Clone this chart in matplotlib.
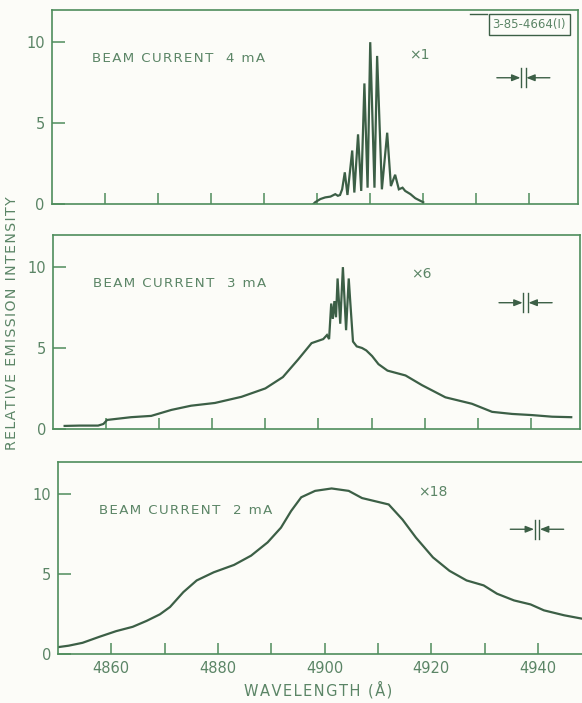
"""Emission spectra at three beam currents, stacked panels."""
import matplotlib

matplotlib.use("Agg")
import matplotlib.pyplot as plt
from matplotlib.lines import Line2D

# 4 mA panel (x1)
wl_4ma = [4899.4, 4899.7, 4900.7, 4901.6, 4902.6, 4903.5, 4904.0, 4904.4, 4904.8,
          4905.3, 4905.8, 4906.7, 4907.1, 4907.8, 4908.4, 4909.0, 4909.6, 4910.1,
          4910.9, 4911.4, 4912.3, 4913.3, 4914.0, 4914.8, 4915.5, 4916.2, 4916.7,
          4917.7, 4918.6, 4920.1]
int_4ma = [0.0, 0.1, 0.3, 0.4, 0.45, 0.6, 0.5, 0.55, 0.9,
           1.95, 0.55, 3.3, 0.7, 4.3, 0.8, 7.45, 1.0, 10.0,
           1.0, 9.15, 0.9, 4.4, 1.1, 1.8, 0.9, 1.0, 0.8,
           0.6, 0.35, 0.1]

# 3 mA panel (x6)
wl_3ma = [4852.2, 4855.0, 4858.5, 4859.5, 4860.2, 4864.7, 4868.5, 4872.3, 4876.0,
          4880.5, 4885.5, 4890.0, 4893.3, 4896.2, 4898.7, 4900.9, 4901.6, 4902.0,
          4902.4, 4902.7, 4903.0, 4903.3, 4903.6, 4904.1, 4904.6, 4905.2, 4905.7,
          4906.0, 4906.5, 4907.2, 4908.2, 4909.0, 4910.1, 4911.3, 4913.0, 4916.4,
          4919.5, 4923.9, 4928.9, 4932.7, 4936.5, 4940.2, 4944.0, 4947.6]
int_3ma = [0.18, 0.2, 0.2, 0.3, 0.55, 0.72, 0.8, 1.17, 1.43,
           1.6, 1.98, 2.5, 3.2, 4.3, 5.3, 5.55, 5.8, 5.55,
           7.75, 6.8, 7.9, 6.9, 9.3, 6.5, 10.0, 6.1, 9.3,
           7.8, 5.4, 5.1, 5.0, 4.85, 4.5, 4.0, 3.6, 3.3,
           2.7, 1.95, 1.55, 1.05, 0.92, 0.85, 0.75, 0.72]

# 2 mA panel (x18)
wl_2ma = [4849.8, 4852.0, 4854.6, 4857.7, 4860.9, 4864.0, 4866.6, 4869.1, 4871.0,
          4873.5, 4876.0, 4879.2, 4883.0, 4886.2, 4889.3, 4891.8, 4893.7, 4895.6,
          4898.2, 4901.3, 4904.5, 4907.0, 4909.5, 4912.0, 4914.6, 4917.1, 4920.3,
          4923.4, 4926.6, 4929.8, 4932.3, 4935.5, 4938.6, 4941.1, 4944.9, 4948.4,
          4949.5]
int_2ma = [0.42, 0.52, 0.7, 1.07, 1.43, 1.7, 2.07, 2.48, 2.94,
           3.87, 4.6, 5.11, 5.57, 6.15, 6.98, 7.9, 8.94, 9.8,
           10.2, 10.35, 10.2, 9.75, 9.55, 9.35, 8.4, 7.28, 6.04,
           5.2, 4.6, 4.29, 3.77, 3.35, 3.1, 2.73, 2.42, 2.2,
           2.15]

panel_labels = ["BEAM CURRENT  4 mA", "BEAM CURRENT  3 mA", "BEAM CURRENT  2 mA"]
scale_labels = ["\u00d71", "\u00d76", "\u00d718"]
x_ticks = [4860, 4870, 4880, 4890, 4900, 4910, 4920, 4930, 4940]
y_ticks = [0, 5, 10]

AXIS_C = "#4f8d5c"
LINE_C = "#3c5f46"
TEXT_C = "#5b8566"
BG = "#fcfcf8"

plt.rcParams["font.family"] = ["DejaVu Sans"]


def spaced(s):
    # the original lettering is widely tracked; hair spaces fake that
    return "\u200a".join(s)


fig = plt.figure(figsize=(5.82, 7.03), dpi=100, facecolor=BG)

# [left, bottom, width, height] per panel
positions = [
    [0.089, 0.710, 0.904, 0.276],
    [0.091, 0.390, 0.906, 0.276],
    [0.0997, 0.0697, 0.91, 0.273],
]
series = [(wl_4ma, int_4ma), (wl_3ma, int_3ma), (wl_2ma, int_2ma)]
scale_y = [9.2, 9.6, 10.1]


def draw_slit(ax, xc, y):
    """Arrows pointing in at a pair of bars: the instrument resolution mark."""
    for side in (-1, 1):
        ax.annotate("", xy=(xc + side * 0.55, y), xytext=(xc + side * 5.0, y),
                    arrowprops=dict(arrowstyle="-|>,head_length=0.5,head_width=0.2",
                                    color=LINE_C, lw=1.0, shrinkA=0, shrinkB=0))
        ax.plot([xc + side * 0.45] * 2, [y - 0.58, y + 0.58], color=LINE_C, lw=1.0)


for i, (pos, (wl, inten)) in enumerate(zip(positions, series)):
    ax = fig.add_axes(pos)
    ax.set_facecolor(BG)
    ax.plot(wl, inten, color=LINE_C, lw=1.6, solid_joinstyle="miter")
    ax.set_xlim(4850, 4949.3)
    ax.set_ylim(0, 12)
    for name, sp in ax.spines.items():
        sp.set_color(AXIS_C)
        sp.set_linewidth(1.2)
    if i == 2:
        ax.spines["right"].set_visible(False)

    ax.set_xticks(x_ticks)
    ax.set_yticks(y_ticks)
    ax.tick_params(axis="both", direction="in", color=AXIS_C, width=1.1,
                   labelcolor=TEXT_C, labelsize=10.5)
    ax.tick_params(axis="x", length=8)
    ax.tick_params(axis="y", length=9, pad=5)
    if i == 2:
        ax.set_xticklabels([str(t) if t % 20 == 0 else "" for t in x_ticks])
        ax.tick_params(axis="x", pad=5)
    else:
        ax.set_xticklabels([])

    ax.text(4857.6, 9.0, spaced(panel_labels[i]), color=TEXT_C, fontsize=9.6,
            va="center", ha="left")
    ax.text(4917.5, scale_y[i], scale_labels[i], color=TEXT_C, fontsize=10,
            va="center", ha="left")
    draw_slit(ax, 4939.0 + (0.8 if i == 2 else 0), 7.8)

    if i == 0:
        ax.text(0.977, 0.958, "3-85-4664(I)", transform=ax.transAxes, color=TEXT_C,
                fontsize=8.5, ha="right", va="top",
                bbox=dict(boxstyle="square,pad=0.32", fc=BG, ec=LINE_C, lw=1.0))
        # short rule running into the box's top edge
        fig.add_artist(Line2D([470 / 582, 487 / 582], [1 - 14 / 703] * 2,
                              color=LINE_C, lw=1.0))

fig.text(0.021, 0.54, spaced("RELATIVE EMISSION INTENSITY"), rotation=90,
         color=TEXT_C, fontsize=10.2, ha="center", va="center")
fig.text(0.547, 0.019, spaced("WAVELENGTH (\u00c5)"), color=TEXT_C, fontsize=10.5,
         ha="center", va="center")

fig.savefig("out.png", dpi=100, facecolor=BG)
